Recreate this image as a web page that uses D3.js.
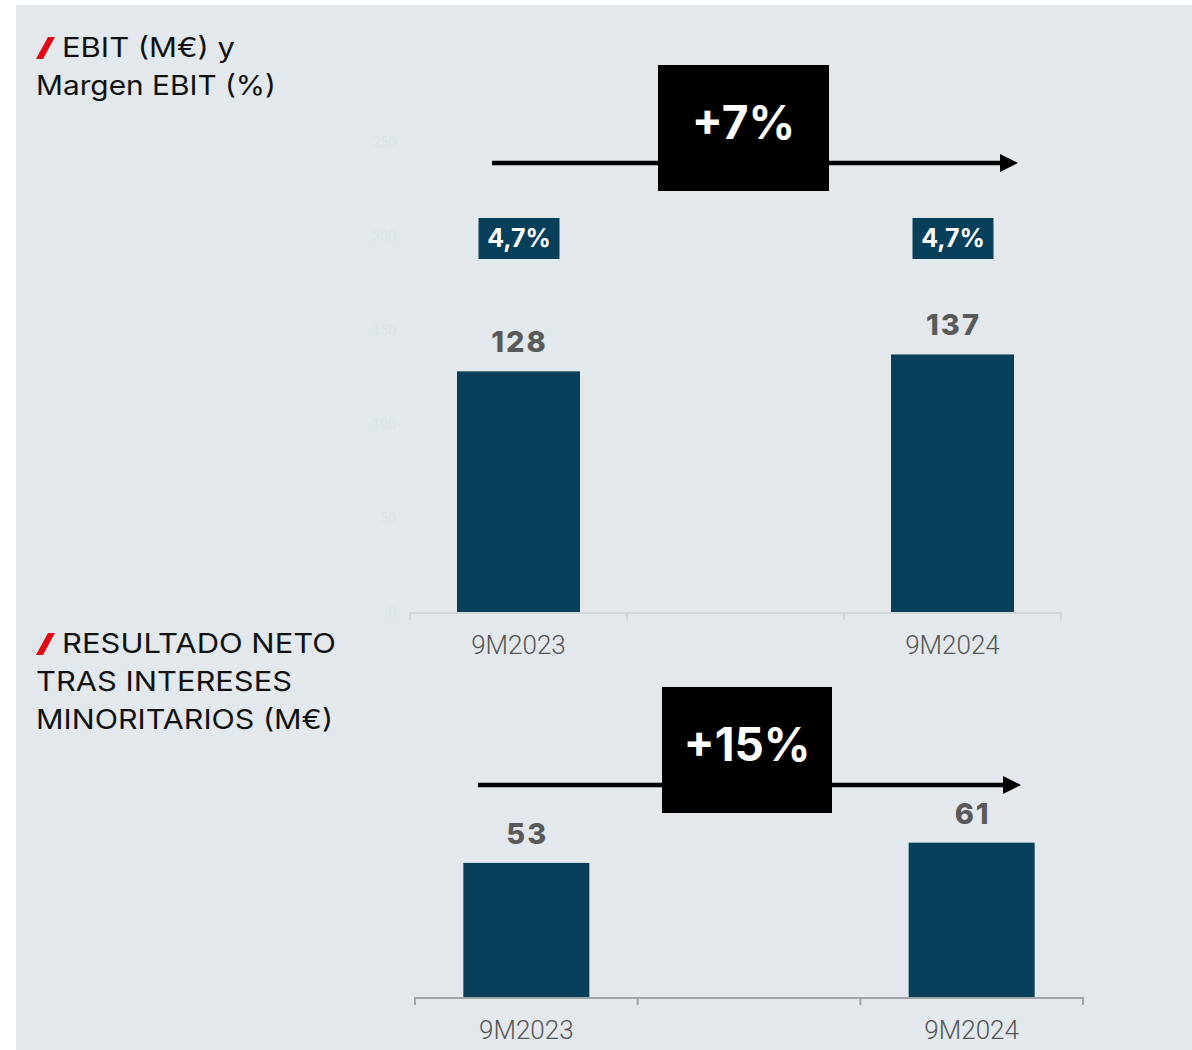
<!DOCTYPE html>
<html><head><meta charset="utf-8">
<script src="https://cdn.jsdelivr.net/npm/d3@7"></script>
<style>body{margin:0;background:#fff;}svg{display:block;}</style>
</head><body>
<svg id="c" width="1192" height="1050"></svg>
<script>
const categories = ["9M2023", "", "9M2024"];
const ebit = [128, null, 137];
const ebitMargin = ["4,7%", null, "4,7%"];
const ebitTicks = [0, 50, 100, 150, 200, 250];
const ebitGrowth = "+7%";
const netResult = [53, null, 61];
const netGrowth = "+15%";
const titleTop = ["EBIT (M€) y", "Margen EBIT (%)"];
const titleBottom = ["RESULTADO NETO", "TRAS INTERESES", "MINORITARIOS (M€)"];

const svg = d3.select("#c");
const BG = "#e2e8eb", BAR = "#083f5a";
const FONT = "Roboto, 'Noto Sans', sans-serif";
const WIDE = "Inter, 'DejaVu Sans', sans-serif";
svg.append("rect").attr("x", 16).attr("y", 5).attr("width", 1176).attr("height", 1045).attr("fill", BG);

function slash(x, y) {
  svg.append("path").attr("d", `M${x+12},${y-11} L${x+19},${y-11} L${x+7},${y+11} L${x},${y+11} Z`).attr("fill", "#e30613");
}
function title(lines, x0, y0, fit) {
  lines.forEach((t, i) => {
    const tx = svg.append("text").attr("x", i === 0 ? x0 + 26 : x0).attr("y", y0 + i * 38)
      .attr("font-family", WIDE).attr("font-size", 27).attr("fill", "#111").text(t);
    if (fit[i]) tx.attr("textLength", fit[i]).attr("lengthAdjust", "spacingAndGlyphs");
  });
  slash(x0, y0 - 9);
}
title(titleTop, 36, 57, [173, 240]);
title(titleBottom, 36, 653, [274, 256, 297]);

function chart(o) {
  const x = d3.scaleBand().domain(categories).range([o.x0, o.x1]).paddingInner(0).paddingOuter(0);
  const y = d3.scaleLinear().domain([0, o.max]).range([o.base, o.base - o.max * o.k]);
  const g = svg.append("g");
  const ticksX = [o.x0].concat(categories.map(c => x(c) + x.bandwidth()));
  g.append("line").attr("x1", o.x0).attr("x2", o.x1).attr("y1", o.base + 1).attr("y2", o.base + 1)
    .attr("stroke", o.axisColor).attr("stroke-width", 2);
  g.selectAll(".tk").data(ticksX).enter().append("line")
    .attr("x1", d => d).attr("x2", d => d).attr("y1", o.base).attr("y2", o.base + 8)
    .attr("stroke", o.axisColor).attr("stroke-width", 2);
  if (o.yTicks) {
    g.selectAll(".yt").data(o.yTicks).enter().append("text")
      .attr("x", 396).attr("y", d => y(d) + 5).attr("text-anchor", "end")
      .attr("font-family", FONT).attr("font-size", 14).attr("fill", "#dce2e6").text(d => d);
  }
  const bw = o.bw;
  const idx = categories.map((c, i) => i).filter(i => o.values[i] != null);
  g.selectAll(".bar").data(idx).enter().append("rect")
    .attr("x", i => x(categories[i]) + x.bandwidth() / 2 - bw / 2)
    .attr("y", i => y(o.values[i]))
    .attr("width", bw).attr("height", i => o.base - y(o.values[i]))
    .attr("fill", BAR);
  g.selectAll(".vl").data(idx).enter().append("text")
    .attr("x", i => x(categories[i]) + x.bandwidth() / 2 + 1)
    .attr("y", i => y(o.values[i]) - 19)
    .attr("text-anchor", "middle").attr("font-family", WIDE).attr("font-weight", 800)
    .attr("letter-spacing", 2)
    .attr("font-size", 29).attr("fill", "#595959").text(i => o.values[i]);
  g.selectAll(".cl").data(idx).enter().append("text")
    .attr("x", i => x(categories[i]) + x.bandwidth() / 2)
    .attr("y", o.base + 42)
    .attr("text-anchor", "middle").attr("font-family", FONT).attr("font-weight", 300)
    .attr("font-size", 26).attr("fill", "#555").text(i => categories[i]);
  if (o.margins) {
    idx.forEach(i => {
      const cx = x(categories[i]) + x.bandwidth() / 2;
      g.append("rect").attr("x", cx - 40).attr("y", o.marginY - 20).attr("width", 81).attr("height", 41).attr("fill", BAR);
      g.append("text").attr("x", cx + 0.5).attr("y", o.marginY + 9).attr("text-anchor", "middle")
        .attr("font-family", WIDE).attr("font-weight", "bold").attr("font-size", 25).attr("fill", "#fff").text(o.margins[i]);
    });
  }
  const a = o.arrow;
  g.append("line").attr("x1", a.x1).attr("x2", a.x2 - 14).attr("y1", a.y).attr("y2", a.y).attr("stroke", "#000").attr("stroke-width", 4.5);
  g.append("path").attr("d", `M${a.x2},${a.y} L${a.x2 - 18},${a.y - 9} L${a.x2 - 18},${a.y + 9} Z`).attr("fill", "#000");
  g.append("rect").attr("x", a.bx).attr("y", a.by).attr("width", a.bw).attr("height", 126).attr("fill", "#000");
  g.append("text").attr("x", a.bx + a.bw / 2).attr("y", a.by + 74).attr("text-anchor", "middle")
    .attr("font-family", WIDE).attr("font-weight", "bold").attr("font-size", 46).attr("fill", "#fff").text(a.label);
}

chart({ values: ebit, x0: 410, x1: 1061, base: 612, max: 250, k: 1.88, bw: 123, axisColor: "#d0d5d8",
  yTicks: ebitTicks, margins: ebitMargin, marginY: 238,
  arrow: { x1: 492, x2: 1018, y: 163, bx: 658, by: 65, bw: 171, label: ebitGrowth } });
chart({ values: netResult, x0: 415, x1: 1083, base: 997, max: 100, k: 2.53, bw: 126, axisColor: "#a0a4a6",
  arrow: { x1: 478, x2: 1021, y: 785, bx: 662, by: 687, bw: 170, label: netGrowth } });
</script>
</body></html>
